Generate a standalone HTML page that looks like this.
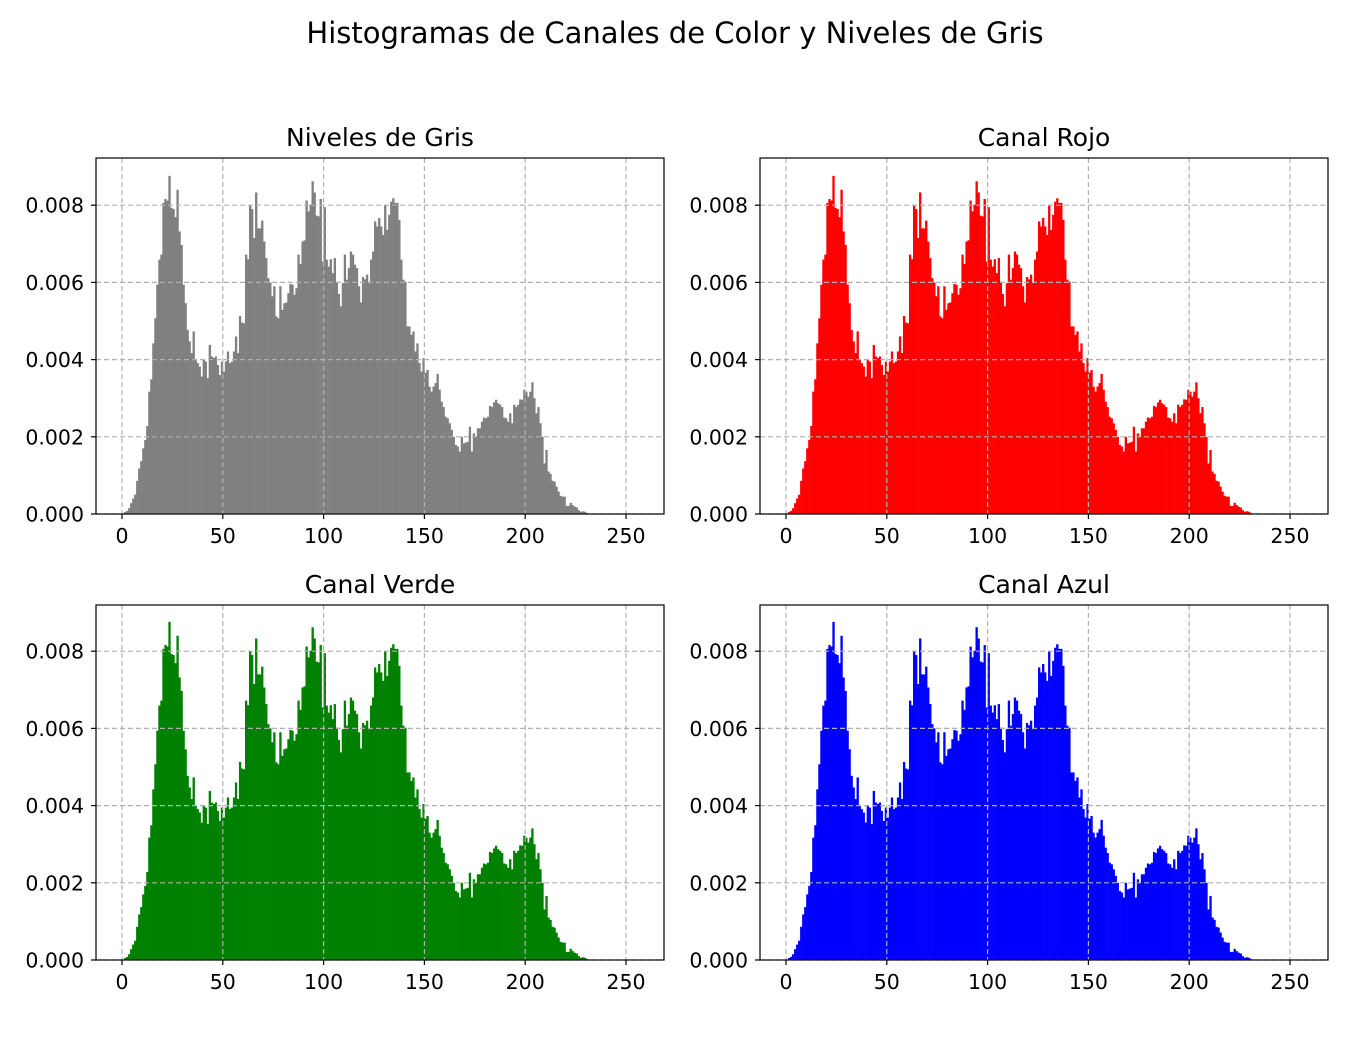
<!DOCTYPE html>
<html><head><meta charset="utf-8"><style>
body{margin:0;background:#fff;}
svg text{font-family:"DejaVu Sans","Liberation Sans",sans-serif;}
</style></head><body>
<svg id="fig" width="1350" height="1050" xmlns="http://www.w3.org/2000/svg">
<text x="675" y="43" text-anchor="middle" font-size="29">Histogramas de Canales de Color y Niveles de Gris</text>
</svg>
<script>
const binValues = [0.0,0.05,0.08,0.15,0.28,0.4,0.5,0.86,1.18,1.37,1.7,1.92,2.28,3.17,3.49,4.42,5.07,5.94,6.59,6.72,
8.06,8.16,8.12,8.76,7.93,7.9,7.69,8.4,7.32,6.97,5.94,5.46,4.77,4.47,4.17,4.73,3.99,3.91,3.82,3.56,
3.99,3.95,3.52,4.38,4.08,4.04,4.08,3.86,3.6,3.95,3.69,3.95,4.21,3.91,3.95,4.21,4.6,4.17,5.13,4.96,
4.94,6.72,6.6,7.99,7.9,7.15,8.33,7.4,7.4,7.6,7.06,6.63,6.11,6.0,5.64,5.9,5.12,5.07,5.9,5.29,
5.46,5.48,5.72,5.96,5.94,5.68,5.85,6.72,6.48,7.06,7.09,8.12,7.84,8.01,8.62,8.33,7.73,7.71,8.16,6.54,
7.95,6.59,6.41,6.6,6.24,6.63,6.02,5.7,5.38,5.98,6.72,6.07,6.37,6.8,6.72,6.46,6.37,5.9,5.48,6.14,
6.08,6.2,5.98,6.59,6.8,7.58,7.45,7.67,7.45,7.23,8.01,7.36,7.75,8.09,8.18,8.06,8.06,7.62,6.59,6.07,
6.02,4.86,4.86,4.64,4.73,4.21,4.42,3.91,3.69,4.04,3.66,3.73,3.3,3.17,3.3,3.39,3.63,3.22,2.91,2.77,
2.52,2.48,2.35,2.18,2.0,1.79,1.75,1.62,2.0,1.83,1.85,1.87,2.26,1.62,2.09,2.0,2.22,2.22,2.39,2.5,
2.48,2.52,2.8,2.77,2.89,2.96,2.87,2.83,2.77,2.5,2.48,2.39,2.61,2.35,2.83,2.77,2.83,2.97,2.96,3.22,
3.17,3.04,3.17,3.41,3.0,2.61,2.77,2.35,2.0,1.31,1.66,1.1,1.04,0.86,0.84,0.71,0.58,0.47,0.45,0.45,
0.21,0.21,0.29,0.23,0.19,0.17,0.1,0.06,0.07,0.06,0.03];
const xTicks = [0,50,100,150,200,250];
const yTicks = [0,0.002,0.004,0.006,0.008];
const yTickLabels = ["0.000","0.002","0.004","0.006","0.008"];
const panelTitles = ["Niveles de Gris","Canal Rojo","Canal Verde","Canal Azul"];
const panelColors = ["#808080","#ff0000","#008000","#0000ff"];
const NS="http://www.w3.org/2000/svg";
const fig=document.getElementById('fig');
const boxes=[[96,158,356],[760,158,356],[96,605,355],[760,605,355]];
function mk(tag,attrs,parent){const e=document.createElementNS(NS,tag);for(const k in attrs)e.setAttribute(k,attrs[k]);parent.appendChild(e);return e;}
boxes.forEach((b,p)=>{
  const L=b[0],T=b[1],W=568,H=b[2];
  const x0=L+26, xs=2.016;
  const sx=v=>x0+v*xs;
  const sy=v=>T+H-v*38600;
  const g=mk('g',{},fig);
  
  
  const t=mk('text',{x:L+W/2,y:T-12,'text-anchor':'middle','font-size':'25'},g);
  t.textContent=panelTitles[p];
  
  
  binValues.forEach((v,i)=>{
    if(v<=0)return;
    const val=v/1000;
    const r=mk('rect',{x:sx(i),y:sy(val),width:xs+0.3,height:sy(0)-sy(val),fill:panelColors[p]},g);
    
    
  });
  xTicks.forEach(v=>{
    const gl=mk('line',{x1:sx(v),x2:sx(v),y1:T,y2:T+H,stroke:'#b0b0b0','stroke-width':1.2,'stroke-dasharray':'5,3'},g);
    
    
    mk('line',{x1:sx(v),x2:sx(v),y1:T+H,y2:T+H+5,stroke:'#000','stroke-width':1.2},g);
    const tl=mk('text',{x:sx(v),y:T+H+29,'text-anchor':'middle','font-size':'20.5'},g);
    tl.textContent=v;
    
    
  });
  yTicks.forEach((v,i)=>{
    const gl=mk('line',{x1:L,x2:L+W,y1:sy(v),y2:sy(v),stroke:'#b0b0b0','stroke-width':1.2,'stroke-dasharray':'5,3'},g);
    
    
    mk('line',{x1:L-5,x2:L,y1:sy(v),y2:sy(v),stroke:'#000','stroke-width':1.2},g);
    const tl=mk('text',{x:L-12,y:sy(v)+7.5,'text-anchor':'end','font-size':'20.5'},g);
    tl.textContent=yTickLabels[i];
    
    
  });
  const fr=mk('rect',{x:L,y:T,width:W,height:H,fill:'none',stroke:'#000','stroke-width':1.2},g);
  
  
});
</script>
</body></html>
